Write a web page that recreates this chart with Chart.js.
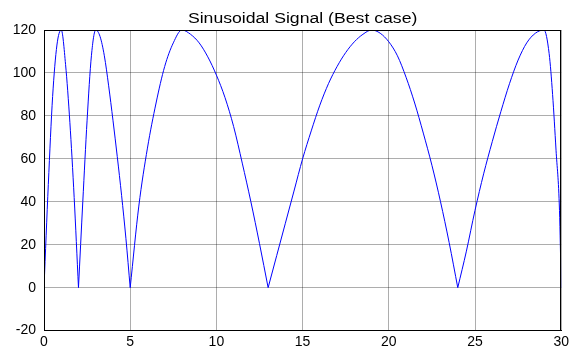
<!DOCTYPE html>
<html>
<head>
<meta charset="utf-8">
<script src="https://cdn.jsdelivr.net/npm/chart.js@4/dist/chart.umd.min.js"></script>
<style>
  html, body { margin: 0; padding: 0; background: #fff; }
  #wrap { width: 572px; height: 347px; }
</style>
</head>
<body>
<div id="wrap"><canvas id="plot"></canvas></div>
<script>
/* values */
const chartTitle = "Sinusoidal Signal (Best case)";
const xs = [0, 0.25, 0.5, 0.75, 1, 1.25, 1.5, 1.75, 2,
  2.25, 2.5, 2.75, 3, 3.25, 3.5, 3.75, 4, 4.25, 4.5, 4.75, 5,
  5.5, 6, 6.5, 7, 7.5, 8, 8.5, 9, 9.5, 10, 10.5, 11, 11.5, 12, 12.5, 13,
  13.5, 14, 14.5, 15, 15.5, 16, 16.5, 17, 17.5, 18, 18.5, 19,
  19.5, 20, 20.5, 21, 21.5, 22, 22.5, 23, 23.5, 24,
  24.5, 25, 25.5, 26, 26.5, 27, 27.5, 28, 28.5, 29, 29.3, 29.5, 29.7, 29.9, 30];
const ys = [0, 48, 89, 113, 120, 104, 77, 42, 0,
  40, 78, 108, 120, 117, 108, 94, 78, 61, 43, 23, 0,
  38, 65, 86, 103, 114, 120, 118, 114, 107.5, 99, 88.5, 75, 58, 40, 20.5, 0,
  15, 30, 45, 60, 73, 85, 95, 103, 109.5, 114.5, 118, 120,
  118.5, 114.5, 108, 98, 86, 72, 57, 40, 21, 0,
  17, 36, 53, 68, 82, 95, 106, 114, 118.5, 120, 109, 90, 64, 36, 0];
const xTicks = [0, 5, 10, 15, 20, 25, 30];
const yTicks = [-20, 0, 20, 40, 60, 80, 100, 120];

// split the signal into arches at its zeros so the cusps stay sharp
let arches = [];
let cur = [];
for (let i = 0; i < xs.length; i++) {
  cur.push({x: xs[i], y: ys[i]});
  if (ys[i] === 0 && cur.length > 1) {
    arches.push(cur);
    cur = [{x: xs[i], y: ys[i]}];
  }
}

let datasets = arches.map(pts => ({
  data: pts,
  borderColor: '#0000ff',
  borderWidth: 1,
  pointRadius: 0,
  cubicInterpolationMode: 'monotone',
  fill: false
}));

const fontFamily = 'Arial, "Liberation Sans", sans-serif';

// black box round the axes + the (a bit wide) matlab title
const boxPlugin = {
  id: 'box',
  afterDraw(chart) {
    const a = chart.chartArea;
    const c = chart.ctx;
    c.save();
    c.strokeStyle = '#000';
    c.lineWidth = 1;
    c.strokeRect(Math.round(a.left) + 0.5, Math.round(a.top) + 0.5,
      Math.round(a.right - a.left) - 1, Math.round(a.bottom - a.top) - 1);

    c.font = '14px ' + fontFamily;
    c.fillStyle = '#000';
    c.textAlign = 'center';
    c.textBaseline = 'alphabetic';
    c.translate((a.left + a.right) / 2, 23);
    c.scale(1.26, 1);
    c.fillText(chartTitle, 0, 0);
    c.restore();
  }
};

const font = { family: fontFamily, size: 14 };

new Chart(document.getElementById('plot'), {
  type: 'line',
  data: { datasets: datasets },
  plugins: [boxPlugin],
  options: {
    responsive: true,
    maintainAspectRatio: false,
    animation: false,
    layout: { padding: { left: 0, right: 9, top: 30, bottom: 0 } },
    plugins: {
      legend: { display: false },
      tooltip: { enabled: false },
      title: { display: false }
    },
    scales: {
      x: {
        type: 'linear',
        min: 0,
        max: 30,
        afterBuildTicks: s => { s.ticks = xTicks.map(v => ({ value: v })); },
        afterFit: s => { s.height = 16; },
        ticks: { color: '#000', font: font, padding: 3, maxRotation: 0 },
        grid: { color: 'rgba(0,0,0,0.32)', drawTicks: false },
        border: { color: '#000' }
      },
      y: {
        min: -20,
        max: 120,
        afterBuildTicks: s => { s.ticks = yTicks.map(v => ({ value: v })); },
        afterFit: s => { s.width = 44; },
        ticks: { color: '#000', font: font, padding: 8 },
        grid: { color: 'rgba(0,0,0,0.32)', drawTicks: false },
        border: { color: '#000' }
      }
    }
  }
});
</script>
</body>
</html>
